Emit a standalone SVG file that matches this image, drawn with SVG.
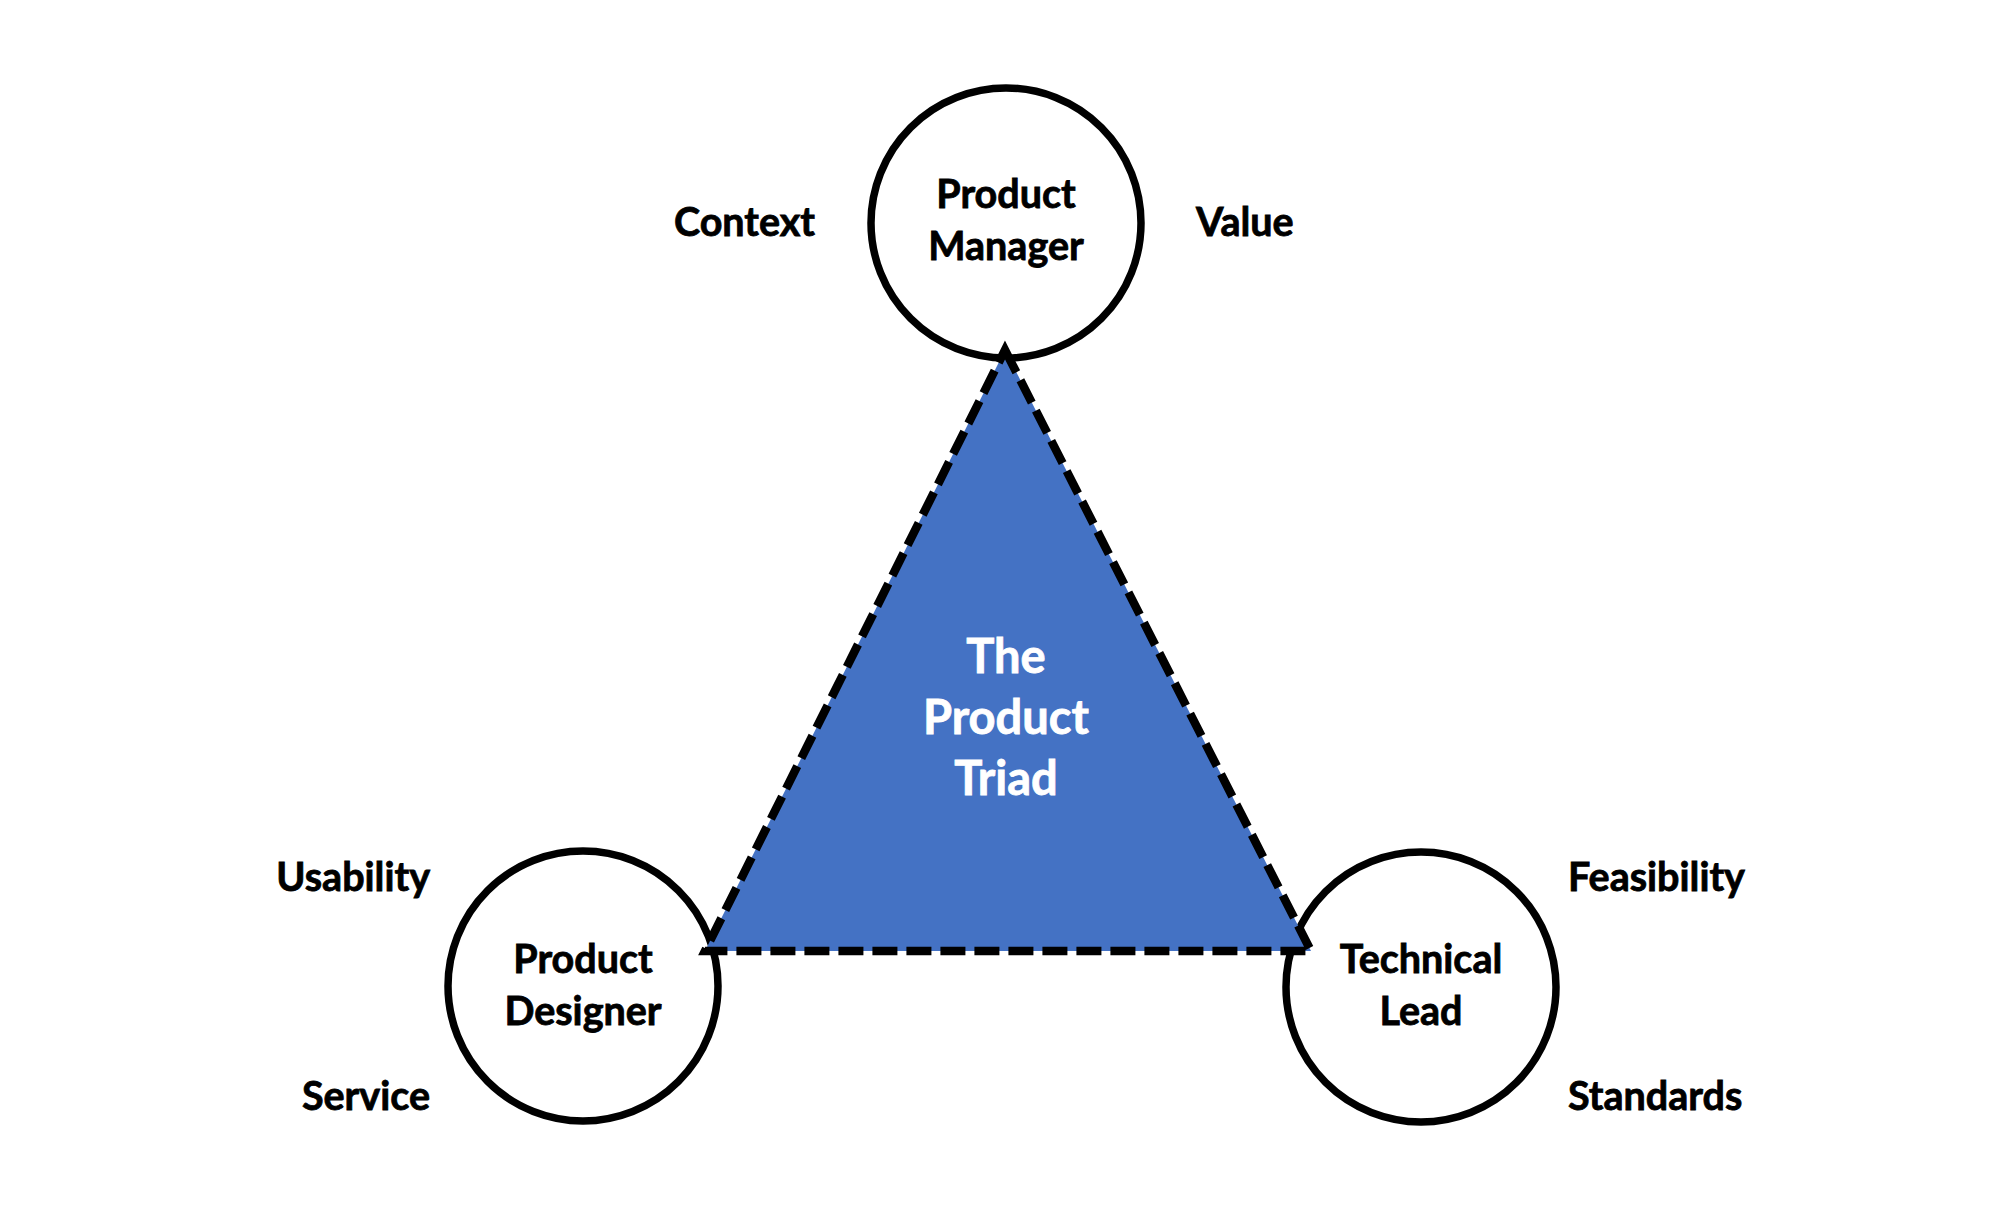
<svg xmlns="http://www.w3.org/2000/svg" width="2000" height="1214" viewBox="0 0 2000 1214">
<style>
.node{fill:#ffffff;stroke:#000000;stroke-width:7.5}
.t{font-family:Lato,"Open Sans","Liberation Sans",sans-serif;font-weight:700;font-size:39.5px;fill:#000000;stroke:#000000;stroke-width:0.8}
.c{text-anchor:middle}
.r{text-anchor:end}
.l{text-anchor:start}
.tri{fill:#4472C4;stroke:#000000;stroke-width:8.5;stroke-dasharray:25 9;stroke-linejoin:miter}
.w{font-family:Lato,"Open Sans","Liberation Sans",sans-serif;font-weight:700;font-size:47px;fill:#ffffff;stroke:#ffffff;stroke-width:0.8;text-anchor:middle}
</style>
<rect width="2000" height="1214" fill="#ffffff"/>
<g id="product-manager">
<circle class="node" cx="1006" cy="223" r="135"/>
<text class="t c" x="1006" y="208">Product</text>
<text class="t c" x="1006" y="260">Manager</text>
</g>
<g id="product-designer">
<circle class="node" cx="583" cy="986" r="135"/>
<text class="t c" x="583" y="973">Product</text>
<text class="t c" x="583" y="1025">Designer</text>
</g>
<g id="technical-lead">
<circle class="node" cx="1421" cy="987" r="135"/>
<text class="t c" x="1421" y="973">Technical</text>
<text class="t c" x="1421" y="1025">Lead</text>
</g>
<g id="connectors">
<g id="product-triad">
<polygon class="tri" points="1005,350 1311,951 705,951"/>
<text class="w" x="1006" y="673">The</text>
<text class="w" x="1006" y="734">Product</text>
<text class="w" x="1006" y="795">Triad</text>
</g>
</g>
<g id="labels">
<text class="t r" x="815" y="236">Context</text>
<text class="t l" x="1196" y="236">Value</text>
<text class="t r" x="430" y="891">Usability</text>
<text class="t r" x="430" y="1110">Service</text>
<text class="t l" x="1568" y="891">Feasibility</text>
<text class="t l" x="1568" y="1110">Standards</text>
</g>
</svg>
